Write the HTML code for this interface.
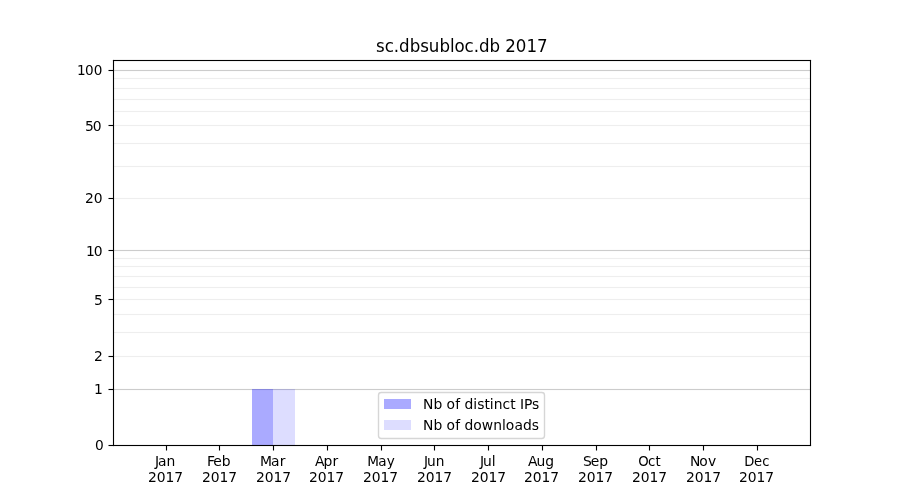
<!DOCTYPE html>
<html lang="en"><head><meta charset="utf-8"><title>sc.dbsubloc.db 2017</title>
<style>html,body{margin:0;padding:0;background:#fff;width:900px;height:500px;overflow:hidden}svg{display:block}text{font-family:"DejaVu Sans","Liberation Sans",sans-serif;fill:#000}</style>
</head><body>
<svg width="900" height="500" viewBox="0 0 900 500">
<rect x="0" y="0" width="900" height="500" fill="#ffffff"/>
<g id="grid">
<rect x="113.000" y="355.944" width="697.000" height="1.111" fill="#eeeeee"/>
<rect x="113.000" y="331.944" width="697.000" height="1.111" fill="#eeeeee"/>
<rect x="113.000" y="313.944" width="697.000" height="1.111" fill="#eeeeee"/>
<rect x="113.000" y="298.944" width="697.000" height="1.111" fill="#eeeeee"/>
<rect x="113.000" y="286.944" width="697.000" height="1.111" fill="#eeeeee"/>
<rect x="113.000" y="275.944" width="697.000" height="1.111" fill="#eeeeee"/>
<rect x="113.000" y="265.944" width="697.000" height="1.111" fill="#eeeeee"/>
<rect x="113.000" y="257.944" width="697.000" height="1.111" fill="#eeeeee"/>
<rect x="113.000" y="197.944" width="697.000" height="1.111" fill="#eeeeee"/>
<rect x="113.000" y="165.944" width="697.000" height="1.111" fill="#eeeeee"/>
<rect x="113.000" y="142.944" width="697.000" height="1.111" fill="#eeeeee"/>
<rect x="113.000" y="124.944" width="697.000" height="1.111" fill="#eeeeee"/>
<rect x="113.000" y="110.944" width="697.000" height="1.111" fill="#eeeeee"/>
<rect x="113.000" y="98.944" width="697.000" height="1.111" fill="#eeeeee"/>
<rect x="113.000" y="87.944" width="697.000" height="1.111" fill="#eeeeee"/>
<rect x="113.000" y="77.944" width="697.000" height="1.111" fill="#eeeeee"/>
<rect x="113.000" y="388.944" width="697.000" height="1.111" fill="#cccccc"/>
<rect x="113.000" y="249.944" width="697.000" height="1.111" fill="#cccccc"/>
<rect x="113.000" y="69.944" width="697.000" height="1.111" fill="#cccccc"/>
</g>
<g id="bars">
<rect x="252" y="389" width="21" height="56" fill="#0000ff" fill-opacity="0.33333"/>
<rect x="273" y="389" width="22" height="56" fill="#0000ff" fill-opacity="0.13333"/>
</g>
<g id="ticks">
<rect x="165.944" y="445.500" width="1.111" height="5.001" fill="#000"/>
<rect x="218.944" y="445.500" width="1.111" height="5.001" fill="#000"/>
<rect x="272.944" y="445.500" width="1.111" height="5.001" fill="#000"/>
<rect x="326.944" y="445.500" width="1.111" height="5.001" fill="#000"/>
<rect x="380.944" y="445.500" width="1.111" height="5.001" fill="#000"/>
<rect x="433.944" y="445.500" width="1.111" height="5.001" fill="#000"/>
<rect x="487.944" y="445.500" width="1.111" height="5.001" fill="#000"/>
<rect x="541.944" y="445.500" width="1.111" height="5.001" fill="#000"/>
<rect x="595.944" y="445.500" width="1.111" height="5.001" fill="#000"/>
<rect x="648.944" y="445.500" width="1.111" height="5.001" fill="#000"/>
<rect x="702.944" y="445.500" width="1.111" height="5.001" fill="#000"/>
<rect x="756.944" y="445.500" width="1.111" height="5.001" fill="#000"/>
<rect x="108.499" y="444.944" width="5.001" height="1.111" fill="#000"/>
<rect x="108.499" y="388.944" width="5.001" height="1.111" fill="#000"/>
<rect x="108.499" y="355.944" width="5.001" height="1.111" fill="#000"/>
<rect x="108.499" y="298.944" width="5.001" height="1.111" fill="#000"/>
<rect x="108.499" y="249.944" width="5.001" height="1.111" fill="#000"/>
<rect x="108.499" y="197.944" width="5.001" height="1.111" fill="#000"/>
<rect x="108.499" y="124.944" width="5.001" height="1.111" fill="#000"/>
<rect x="108.499" y="69.944" width="5.001" height="1.111" fill="#000"/>
</g>
<g id="spines">
<rect x="112.944" y="59.944" width="698.112" height="1.111" fill="#000"/>
<rect x="112.944" y="444.944" width="698.112" height="1.111" fill="#000"/>
<rect x="112.944" y="59.944" width="1.111" height="386.112" fill="#000"/>
<rect x="809.944" y="59.944" width="1.111" height="386.112" fill="#000"/>
</g>
<g id="labels">
<text transform="translate(0,51.50) scale(1,1.070)" x="376.08 384.69 393.80 399.05 409.82 420.35 428.72 439.48 450.00 454.59 464.48 473.84 479.07 489.61 499.87 505.37 515.67 526.47 537.01" y="0" font-size="16.670">sc.dbsubloc.db 2017</text>
<text transform="translate(0,466.28) scale(1,0.960)" x="154.94 157.99 166.43" y="0" font-size="13.889">Jan</text>
<text transform="translate(0,481.83) scale(1,0.960)" x="148.10 156.82 165.55 174.29" y="0" font-size="13.889">2017</text>
<text transform="translate(0,466.28) scale(1,0.960)" x="207.10 213.26 221.76" y="0" font-size="13.889">Feb</text>
<text transform="translate(0,481.83) scale(1,0.960)" x="202.07 210.74 219.43 228.37" y="0" font-size="13.889">2017</text>
<text transform="translate(0,466.28) scale(1,0.960)" x="260.02 270.94 279.65" y="0" font-size="13.889">Mar</text>
<text transform="translate(0,481.83) scale(1,0.960)" x="255.95 264.67 273.40 282.14" y="0" font-size="13.889">2017</text>
<text transform="translate(0,466.28) scale(1,0.960)" x="315.12 323.46 332.62" y="0" font-size="13.889">Apr</text>
<text transform="translate(0,481.83) scale(1,0.960)" x="309.06 317.78 326.51 335.25" y="0" font-size="13.889">2017</text>
<text transform="translate(0,466.28) scale(1,1.060)" x="367.37 378.24 386.71" y="0" font-size="13.589">May</text>
<text transform="translate(0,481.83) scale(1,0.960)" x="363.05 371.77 380.50 389.24" y="0" font-size="13.889">2017</text>
<text transform="translate(0,466.28) scale(1,1.060)" x="424.03 427.07 435.77" y="0" font-size="13.739">Jun</text>
<text x="416.97 425.79 434.61 443.19" y="481.83" font-size="13.889">2017</text>
<text transform="translate(0,466.28) scale(1,1.040)" x="480.07 483.10 491.84" y="0" font-size="13.889">Jul</text>
<text transform="translate(0,481.83) scale(1,1.060)" x="470.96 479.79 488.61 497.19" y="0" font-size="13.889">2017</text>
<text x="527.95 536.59 545.28" y="466.28" font-size="13.889">Aug</text>
<text x="524.04 532.80 541.58 550.37" y="481.83" font-size="13.889">2017</text>
<text transform="translate(0,466.28) scale(1,0.960)" x="582.95 590.71 599.20" y="0" font-size="13.889">Sep</text>
<text transform="translate(0,481.83) scale(1,0.960)" x="578.02 586.80 595.58 604.37" y="0" font-size="13.889">2017</text>
<text transform="translate(0,466.28) scale(1,1.060)" x="638.26 648.01 655.61" y="0" font-size="13.289">Oct</text>
<text transform="translate(0,481.83) scale(1,0.960)" x="632.11 640.83 649.56 658.30" y="0" font-size="13.889">2017</text>
<text transform="translate(0,466.28) scale(1,1.040)" x="689.97 699.29 707.97" y="0" font-size="13.889">Nov</text>
<text transform="translate(0,481.83) scale(1,0.960)" x="686.09 694.81 703.54 712.28" y="0" font-size="13.889">2017</text>
<text transform="translate(0,466.28) scale(1,1.100)" x="744.15 754.05 762.17" y="0" font-size="13.139">Dec</text>
<text transform="translate(0,481.83) scale(1,0.960)" x="739.08 747.80 756.53 765.27" y="0" font-size="13.889">2017</text>
<text transform="translate(0,450.28) scale(1,1.040)" x="95.03" y="0" font-size="13.739">0</text>
<text transform="translate(0,393.94) scale(1,0.960)" x="93.93" y="0" font-size="13.889">1</text>
<text transform="translate(0,360.99) scale(1,1.020)" x="93.95" y="0" font-size="13.889">2</text>
<text transform="translate(0,304.65) scale(1,0.980)" x="93.94" y="0" font-size="13.889">5</text>
<text transform="translate(0,256.39) scale(1,1.040)" x="85.99 93.81" y="0" font-size="13.889">10</text>
<text transform="translate(0,202.84) scale(1,1.040)" x="84.99 93.81" y="0" font-size="13.889">20</text>
<text transform="translate(0,130.72) scale(1,1.040)" x="84.91 92.83" y="0" font-size="13.889">50</text>
<text x="76.98 85.10 93.74" y="75.19" font-size="13.589">100</text>
</g>
<g id="legend">
<path d="M381.28 438.50L541.72 438.50Q544.50 438.50 544.50 435.72L544.50 395.28Q544.50 392.50 541.72 392.50L381.28 392.50Q378.50 392.50 378.50 395.28L378.50 435.72Q378.50 438.50 381.28 438.50Z" fill="#ffffff" fill-opacity="0.8" stroke="#cccccc" stroke-opacity="0.8" stroke-width="1.389"/>
<rect x="384" y="399" width="27" height="10" fill="#0000ff" fill-opacity="0.33333"/>
<rect x="384" y="420" width="27" height="10" fill="#0000ff" fill-opacity="0.13333"/>
<text transform="translate(0,409.23) scale(1,1.060)" x="423.12 433.49 442.30 446.46 455.19 460.09 464.49 473.30 477.15 484.63 489.82 493.68 502.47 510.35 515.54 519.95 524.05 531.91" y="0" font-size="13.889">Nb of distinct IPs</text>
<text transform="translate(0,429.61) scale(1,0.980)" x="423.12 433.50 442.31 446.48 455.24 460.11 464.53 473.35 481.84 493.21 502.00 505.87 514.61 523.00 531.68" y="0" font-size="13.889">Nb of downloads</text>
</g>
</svg></body></html>
